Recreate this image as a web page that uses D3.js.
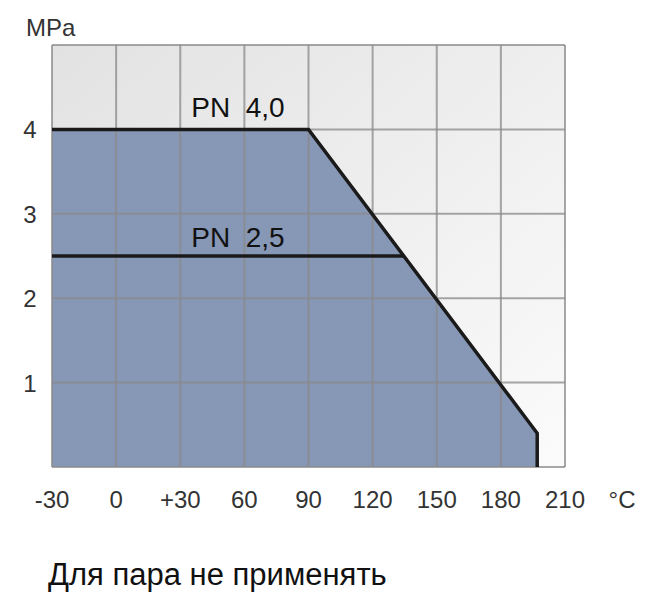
<!DOCTYPE html>
<html><head><meta charset="utf-8">
<script src="https://cdn.jsdelivr.net/npm/d3@7"></script>
<style>body{margin:0;background:#fff} text{white-space:pre}</style>
</head><body>
<svg id="chart" width="664" height="602"></svg>
<script>
var xTicks = [-30, 0, 30, 60, 90, 120, 150, 180, 210];
var xLabels = ["-30", "0", "+30", "60", "90", "120", "150", "180", "210"];
var yTicks = [1, 2, 3, 4];
// PN 4,0 limit curve
var pn40 = [[-30, 4], [90, 4], [197, 0.4], [197, 0]];
// PN 2,5 line
var pn25 = [[-30, 2.5], [134.6, 2.5]];

var svg = d3.select("#chart");
var x = d3.scaleLinear().domain([-30, 210]).range([52, 565]);
var y = d3.scaleLinear().domain([0, 5]).range([467, 45]);

var defs = svg.append("defs");
var g = defs.append("linearGradient").attr("id", "bg").attr("x1", 0).attr("y1", 0).attr("x2", 1).attr("y2", 1);
g.append("stop").attr("offset", "0%").attr("stop-color", "#e2e2e2");
g.append("stop").attr("offset", "100%").attr("stop-color", "#fbfbfb");

svg.append("rect").attr("x", x(-30)).attr("y", y(5)).attr("width", x(210) - x(-30)).attr("height", y(0) - y(5)).attr("fill", "url(#bg)");

var area = d3.area().x(d => x(d[0])).y0(y(0)).y1(d => y(d[1]));
svg.append("path").datum(pn40).attr("d", area).attr("fill", "#8797b6");

// grid
svg.selectAll(".vx").data(xTicks).enter().append("line")
  .attr("x1", d => x(d)).attr("x2", d => x(d)).attr("y1", y(5)).attr("y2", y(0))
  .attr("stroke", "#8a8a8a").attr("stroke-width", 2).attr("opacity", 0.75);
svg.selectAll(".hy").data([0, 1, 2, 3, 4, 5]).enter().append("line")
  .attr("x1", x(-30)).attr("x2", x(210)).attr("y1", d => y(d)).attr("y2", d => y(d))
  .attr("stroke", "#8a8a8a").attr("stroke-width", 2).attr("opacity", 0.75);

var line = d3.line().x(d => x(d[0])).y(d => y(d[1]));
svg.append("path").datum(pn40).attr("d", line).attr("fill", "none").attr("stroke", "#1a1a1a").attr("stroke-width", 3.5);
svg.append("path").datum(pn25).attr("d", line).attr("fill", "none").attr("stroke", "#1a1a1a").attr("stroke-width", 3.5);

var font = "Liberation Sans, Arial, sans-serif";
svg.append("text").attr("x", 238).attr("y", y(4) - 12).attr("text-anchor", "middle")
  .attr("font-family", font).attr("font-size", 28).attr("fill", "#111").text("PN  4,0");
svg.append("text").attr("x", 238).attr("y", y(2.5) - 9).attr("text-anchor", "middle")
  .attr("font-family", font).attr("font-size", 28).attr("fill", "#111").text("PN  2,5");

svg.selectAll(".yl").data(yTicks).enter().append("text")
  .attr("x", 30).attr("y", d => y(d) + 9).attr("text-anchor", "middle")
  .attr("font-family", font).attr("font-size", 24).attr("fill", "#333").text(d => d);
svg.append("text").attr("x", 26).attr("y", 36).attr("font-family", font).attr("font-size", 24).attr("fill", "#333").text("MPa");

svg.selectAll(".xl").data(xTicks).enter().append("text")
  .attr("x", d => x(d)).attr("y", 508).attr("text-anchor", "middle")
  .attr("font-family", font).attr("font-size", 24).attr("fill", "#333").text((d, i) => xLabels[i]);
svg.append("text").attr("x", 622).attr("y", 508).attr("text-anchor", "middle")
  .attr("font-family", font).attr("font-size", 24).attr("fill", "#333").text("°C");

svg.append("text").attr("x", 48).attr("y", 585).attr("font-family", font).attr("font-size", 31).attr("fill", "#111").text("Для пара не применять");
</script>
</body></html>
